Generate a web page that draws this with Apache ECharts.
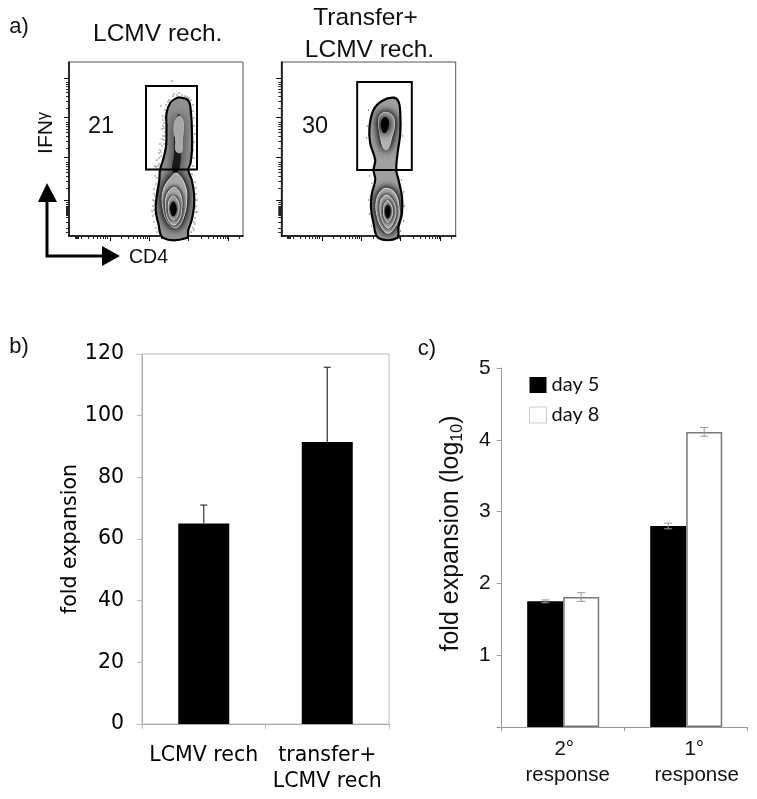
<!DOCTYPE html>
<html><head><meta charset="utf-8">
<style>html,body{margin:0;padding:0;background:#fff}#c{width:757px;height:799px}</style>
<script src="https://cdn.jsdelivr.net/npm/echarts@6/dist/echarts.min.js"></script>
</head><body><div id="c"></div>
<script>
// ---- panel b data
const bCategories = ['LCMV rech', 'transfer+\nLCMV rech'];
const bValues = [65, 91.5];
const bErrors = [6, 24.2];
const bTicks = [0, 20, 40, 60, 80, 100, 120];
// ---- panel c data
const cCategories = [['2°','response'], ['1°','response']];
const cDay5 = [1.75, 2.8];
const cDay8 = [1.81, 4.11];
const cDay5Err = [0.02, 0.04];
const cDay8Err = [0.06, 0.06];
// ---- panel a data, all in channel units
const flowMajorX = [41, 80, 119, 159];
const flowMajorY = [36, 79, 119, 158];
const flowMinorX = [6,7,8,9,12,19,24,28,31,34,36,38,52,59,64,68,71,74,76,78,92,99,104,108,111,114,116,118,132,139,144,148,151,154,156,158,170];
const flowMinorY = [4,8,14,19,21,22,23,24,25,26,27,28,29,30,32,34,48,55,60,64,67,70,72,74,88,95,100,104,107,110,112,114,128,135,140,144,147,150,152,154];
const p1Gate = [[77,66.5],[128,66.5],[128,150],[77,150]];
const p2Gate = [[75.7,66],[130.2,66],[130.2,154],[75.7,154]];
const p1Outline = [[111,138.5],[119.3,135.5],[122,122.7],[123,102.7],[123,86],[121.5,72.7],[119.3,66],[122.7,56],[125,42.7],[125,29.3],[122.7,16],[119.3,6],[117.7,-2],[94.3,-2],[89.3,12.7],[86.7,26],[87.7,39.3],[90.3,56],[91,66],[94,76],[97,89.3],[97.5,109.3],[97.5,122.7],[101.5,133.5],[107.7,138]];
const p1Core = [[110,122],[113,114],[113,100],[112,82],[110,66],[106,63],[103,66],[105,82],[105,100],[106,114]];
const p1Light = [[110,120],[113.7,116],[114.3,106],[113.3,96],[112.7,84.3],[109.3,83.3],[106.7,86],[106.7,96],[105,104.3],[106,114.3]];
const p1Ring1 = [[107.7,62.7],[116,51],[117.7,36],[114.3,18],[107.7,8.3],[99.3,12.7],[93.7,29.3],[94.3,46],[101,57.7]];
const p1Ring2 = [[105.3,48.7],[111.7,41],[112.7,26],[109.3,14.3],[104.3,11],[99.3,16],[96.7,27.7],[97.7,41]];
const p1Ring3 = [[104.3,40],[109.3,34.3],[110,26],[107.7,18.7],[104.3,16],[101,19.3],[99.3,27.7],[100.3,36]];
const p1Center = [[104.3,34.3],[107,29.3],[107,24.3],[104.3,20],[102,24.3],[101.7,29.3]];
const p1Dots = [[100,136],[104,140],[108,141],[113,141],[118,139],[122,136],[124,131],[97,131],[96,126],[110,143],[94,120],[95,113],[93,107],[96,104],[94,100],[95,96],[91,92],[93,90],[96,86],[90,83],[92,80],[88,76],[90,72],[87,69],[88,67],[124,125],[125,118],[125,110],[126,102],[125,94],[124,86],[125,78],[124,70],[123,62],[86,60],[87,52],[85,47],[85,42],[84,36],[84,30],[83,25],[84,20],[85,14],[87,8],[88,4],[90,6],[126,54],[127,48],[127,42],[128,36],[127,30],[128,24],[126,18],[126,12],[124,8],[122,4],[125,6],[103,155],[92,130],[86,70],[91,86],[94,110],[96,118],[88,58],[85,35],[86,22],[126,36],[127,24],[95,92],[93,97],[92,84],[90,78],[89,70],[96,100],[95,108],[94,116],[85,26],[86,32],[86,40],[88,46],[88,16],[90,10],[125,14],[124,20],[126,28],[105,142],[116,140],[120,138],[99,134]];
const p2Outline = [[112,138.3],[117,134.3],[118.7,122.7],[118.7,102.7],[116,82.7],[114.7,66],[117,56],[120.4,39.3],[120.4,22.7],[117,9.3],[115.4,-2],[97,-2],[92,12.7],[89.4,29.3],[90.4,42.7],[93.7,56],[92,66],[93.7,76],[88.7,92.7],[88,109.3],[92,126],[100.4,135]];
const p2Ring = [[103.7,123.7],[110.4,121],[113,112.7],[110.4,99.3],[106,86.7],[102,87.7],[98,104.3],[97,114.3],[98.7,121]];
const p2Core = [[103.7,119],[107,115],[106,107],[103,103],[100,107],[100,115]];
const p2Ring1 = [[105.4,47.7],[113.7,42.7],[117.7,26],[115.4,12.7],[107,2.7],[100.4,7.7],[95.4,21],[94.7,34.3],[98.7,44.3]];
const p2Ring2 = [[106,41],[112,34.3],[114.4,24.3],[112,14.3],[107,7.7],[102,12.7],[98.7,22.7],[98.7,32.7],[101,38.7]];
const p2Ring3 = [[106.4,35.3],[110.4,29.3],[111,22.7],[108.7,16],[106,13.7],[103,17.7],[102,24.3],[103,32]];
const p2Center = [[106.4,31],[108.7,26],[108,21],[106.4,17.7],[104.4,21],[104,26.7]];
const p2Dots = [[87,126],[90.4,52.7],[88.7,39],[88,60],[87,36],[88,22],[90,10],[123,30],[122,44],[122,15],[119,5],[120,56],[121,100],[85,98],[86,110]];

// ---- styling of the contour layers
const DARK = '#000', BAND = '#a8a8a8', RING = '#dedede';
const glow = (pts, clip, blur) => [{pts, fill:DARK, blur, clip},{pts, fill:DARK, blur, clip}];
const band = (pts, fill) => ({pts, fill, stroke:RING, lw:1});
const p1Layers = [
  {pts:p1Outline, fill:'#929292'},
  {pts:p1Core, fill:'#1a1a1a', blur:12, clip:p1Outline},
  ...glow(p1Ring1, p1Outline, 8),
  band(p1Ring1, BAND),
  ...glow(p1Ring2, p1Ring1, 5),
  band(p1Ring2, BAND),
  ...glow(p1Ring3, p1Ring2, 4),
  band(p1Ring3, '#989898'),
  ...glow(p1Center, p1Ring3, 3),
  {pts:p1Light, fill:'#a8a8a8', stroke:'#b8b8b8', lw:1},
  {pts:p1Outline, stroke:'#000', lw:2.2},
  {pts:p1Gate, stroke:'#000', lw:2, sharp:true}
];
const p2Layers = [
  {pts:p2Outline, fill:'#a0a0a0'},
  ...glow(p2Ring, p2Outline, 8),
  ...glow(p2Ring1, p2Outline, 8),
  band(p2Ring1, BAND),
  ...glow(p2Ring2, p2Ring1, 4),
  band(p2Ring2, BAND),
  ...glow(p2Ring3, p2Ring2, 4),
  band(p2Ring3, '#989898'),
  ...glow(p2Center, p2Ring3, 3),
  {pts:p2Ring, fill:'#b0b0b0', stroke:'#d0d0d0', lw:1},
  ...glow(p2Core, p2Ring, 8),
  {pts:p2Outline, stroke:'#000', lw:2.2},
  {pts:p2Gate, stroke:'#000', lw:2, sharp:true}
];

function contourRender(layers){
  return function(params, api){
    const l = layers[params.dataIndex];
    const c = pts => pts.map(p => api.coord(p));
    const smooth = l.sharp ? 0 : 0.4;
    const el = {type:'polygon', shape:{points:c(l.pts), smooth},
      style:{fill:l.fill||'transparent', stroke:l.stroke||'transparent', lineWidth:l.lw||0,
             shadowBlur:l.blur||0, shadowColor:l.blur?l.fill:'transparent'}};
    if(l.clip) el.clipPath = {type:'polygon', shape:{points:c(l.clip), smooth}};
    return el;
  };
}
function errorRender(values, errors, opt){
  return function(params, api){
    const i = params.dataIndex;
    let off = 0;
    if(opt.group!=null){
      off = api.barLayout({count:2, barGap:0, barWidth:opt.barWidth})[opt.group].offsetCenter;
    }
    const up = api.coord([i, values[i]+errors[i]]);
    const lo = api.coord([i, values[i]-(opt.both?errors[i]:0)]);
    const x = up[0]+off, s = {stroke:opt.color, lineWidth:opt.lw};
    const seg = (a,b,c,d)=>({type:'line', shape:{x1:a,y1:b,x2:c,y2:d}, style:s});
    const kids = [seg(x,up[1],x,lo[1]), seg(x-opt.cap,up[1],x+opt.cap,up[1])];
    if(opt.both) kids.push(seg(x-opt.cap,lo[1],x+opt.cap,lo[1]));
    return {type:'group', children:kids};
  };
}
const flowX = (grid, custom, len, color) => ({type:'value', gridIndex:grid, min:0, max:174, position:'bottom',
  axisLine:{show:custom===flowMajorX, onZero:false, lineStyle:{color:'#000', width:1.5}},
  axisTick:{show:true, customValues:custom, length:len, lineStyle:{color, width:1}},
  axisLabel:{show:false}, splitLine:{show:false}});
const flowY = (grid, custom, len, color) => ({type:'value', gridIndex:grid, min:0, max:174, position:'left',
  axisLine:{show:custom===flowMajorY, onZero:false, lineStyle:{color:'#000', width:1.5}},
  axisTick:{show:true, customValues:custom, length:len, lineStyle:{color, width:1}},
  axisLabel:{show:false}, splitLine:{show:false}});

const VERD = '"DejaVu Sans"', ARIAL = '"Liberation Sans"';
const txt = (text,x,y,size,extra) => ({type:'text', x, y, silent:true, style:Object.assign({text, fontSize:size, fontFamily:ARIAL, fill:'#111', align:'center', verticalAlign:'middle'}, extra||{})});
const cLabelStyle = pad => ({fontFamily:ARIAL, fontSize:20.5, color:'#111', lineHeight:26, padding:[0,0,0,pad]});

const chart = echarts.init(document.getElementById('c'), null, {renderer:'canvas'});
chart.setOption({
  animation:false, backgroundColor:'#fff',
  grid:[
    {left:69, top:62, width:174, height:174, show:true, borderColor:'#555', borderWidth:1, backgroundColor:'#fff'},
    {left:281.3, top:62, width:174.4, height:174, show:true, borderColor:'#555', borderWidth:1, backgroundColor:'#fff'},
    {left:142, top:354, width:247, height:370, show:true, borderColor:'#bbb', borderWidth:1},
    {left:501.7, top:368, width:246, height:359}
  ],
  xAxis:[
    flowX(0, flowMajorX, 5, '#000'), flowX(0, flowMinorX, 3, '#222'),
    flowX(1, flowMajorX, 5, '#000'), flowX(1, flowMinorX, 3, '#222'),
    {type:'category', gridIndex:2, data:bCategories, axisLine:{lineStyle:{color:'#aaa'}},
      axisTick:{show:true, length:5, lineStyle:{color:'#bbb'}},
      axisLabel:{interval:0, fontFamily:VERD, fontSize:20.5, color:'#000', lineHeight:26, margin:19}},
    {type:'category', gridIndex:3, z:5, data:cCategories.map(c=>c.join('\n')), axisLine:{lineStyle:{color:'#999'}},
      axisTick:{show:true, length:4, lineStyle:{color:'#999'}},
      axisLabel:{interval:0, margin:9, fontFamily:ARIAL, fontSize:20.5, color:'#111', lineHeight:26,
        formatter:(v,i)=>{const p=v.split('\n'); return i===0?`{a|${p[0]}}\n{b|${p[1]}}`:`{c|${p[0]}}\n{d|${p[1]}}`;},
        rich:{a:cLabelStyle(2), b:cLabelStyle(9), c:cLabelStyle(16), d:cLabelStyle(21)}}}
  ],
  yAxis:[
    flowY(0, flowMajorY, 5, '#000'), flowY(0, flowMinorY, 3, '#222'),
    flowY(1, flowMajorY, 5, '#000'), flowY(1, flowMinorY, 3, '#222'),
    {type:'value', gridIndex:2, min:0, max:120, interval:20, splitLine:{show:false},
      axisLine:{show:true, lineStyle:{color:'#aaa'}}, axisTick:{show:true, length:5, lineStyle:{color:'#bbb'}},
      axisLabel:{fontFamily:VERD, fontSize:20.5, color:'#000', margin:18},
      name:'fold expansion', nameLocation:'middle', nameRotate:90, nameGap:57,
      nameTextStyle:{fontFamily:VERD, fontSize:20.5, color:'#000'}},
    {type:'value', gridIndex:3, min:0, max:5, interval:1, splitLine:{show:false},
      axisLine:{show:true, lineStyle:{color:'#999'}}, axisTick:{show:true, length:5, lineStyle:{color:'#999'}},
      axisLabel:{fontFamily:ARIAL, fontSize:21, color:'#111', margin:11, formatter:v=>v===0?'':String(v)},
      name:'{a|fold expansion (log}{b|10}{a|)}', nameLocation:'middle', nameRotate:90, nameGap:36,
      nameTextStyle:{padding:[0,0,0,28], rich:{a:{fontFamily:ARIAL, fontSize:25, color:'#111', lineHeight:30},
                           b:{fontFamily:ARIAL, fontSize:16, color:'#111', lineHeight:22, verticalAlign:'bottom'}}}}
  ],
  legend:{left:529, top:375, padding:0, orient:'vertical', itemWidth:17, itemHeight:16, itemGap:10, icon:'rect',
    textStyle:{fontFamily:'Lato', fontSize:20, color:'#111'},
    data:[{name:'day 5'},{name:'day 8', itemStyle:{color:'#fff', borderColor:'#ccc', borderWidth:1}}]},
  series:[
    {type:'custom', xAxisIndex:0, yAxisIndex:0, renderItem:contourRender(p1Layers), data:p1Layers.map((_,i)=>[i,0]), silent:true, z:3},
    {type:'custom', xAxisIndex:2, yAxisIndex:2, renderItem:contourRender(p2Layers), data:p2Layers.map((_,i)=>[i,0]), silent:true, z:3},
    {type:'scatter', xAxisIndex:0, yAxisIndex:0, data:p1Dots, symbolSize:1.3, itemStyle:{color:'#222'}, silent:true, z:2},
    {type:'scatter', xAxisIndex:2, yAxisIndex:2, data:p2Dots, symbolSize:1.3, itemStyle:{color:'#444'}, silent:true, z:2},
    {type:'bar', xAxisIndex:4, yAxisIndex:4, data:bValues, barWidth:51, itemStyle:{color:'#000'}, z:3},
    {type:'custom', xAxisIndex:4, yAxisIndex:4, data:bValues.map((v,i)=>[i,v]), z:4, silent:true,
      renderItem:errorRender(bValues,bErrors,{color:'#333', lw:1.2, cap:3.5})},
    {type:'bar', name:'day 5', xAxisIndex:5, yAxisIndex:5, data:cDay5, barWidth:36, barGap:0, itemStyle:{color:'#000'}, z:3},
    {type:'bar', name:'day 8', xAxisIndex:5, yAxisIndex:5, data:cDay8, barWidth:36, barGap:0, itemStyle:{color:'#fff', borderColor:'#777', borderWidth:1.5}, z:3},
    {type:'custom', xAxisIndex:5, yAxisIndex:5, data:cDay5.map((v,i)=>[i,v]), z:4, silent:true,
      renderItem:errorRender(cDay5,cDay5Err,{color:'#999', lw:1, cap:4, both:true, group:0, barWidth:36})},
    {type:'custom', xAxisIndex:5, yAxisIndex:5, data:cDay8.map((v,i)=>[i,v]), z:4, silent:true,
      renderItem:errorRender(cDay8,cDay8Err,{color:'#999', lw:1, cap:4, both:true, group:1, barWidth:36})}
  ],
  graphic:[
    txt('a)',19,27,22), txt('b)',19,347,22), txt('c)',427,349,22),
    txt('LCMV rech.',157.7,34,24.5), txt('Transfer+',365.5,18.5,24.5), txt('LCMV rech.',369.5,50,24.5),
    txt('21',101,127,23.5), txt('30',315,127,23.5),
    txt('CD4',148.5,258,19.5),
    {type:'text', x:46, y:133, rotation:Math.PI/2, silent:true, style:{
      text:'{a|IFN}{b|γ}', align:'center', verticalAlign:'middle',
      rich:{a:{fontFamily:ARIAL, fontSize:21, fill:'#111'}, b:{fontFamily:ARIAL, fontSize:16, fill:'#111', verticalAlign:'top'}}}},
    {type:'polyline', silent:true, shape:{points:[[47,198],[47,256],[106,256]]}, style:{stroke:'#000', lineWidth:3, fill:'none'}},
    {type:'polygon', silent:true, shape:{points:[[47,183],[57,202],[38,202]]}, style:{fill:'#000'}},
    {type:'polygon', silent:true, shape:{points:[[120,256],[102,246],[102,266]]}, style:{fill:'#000'}}
  ]
});
</script></body></html>
